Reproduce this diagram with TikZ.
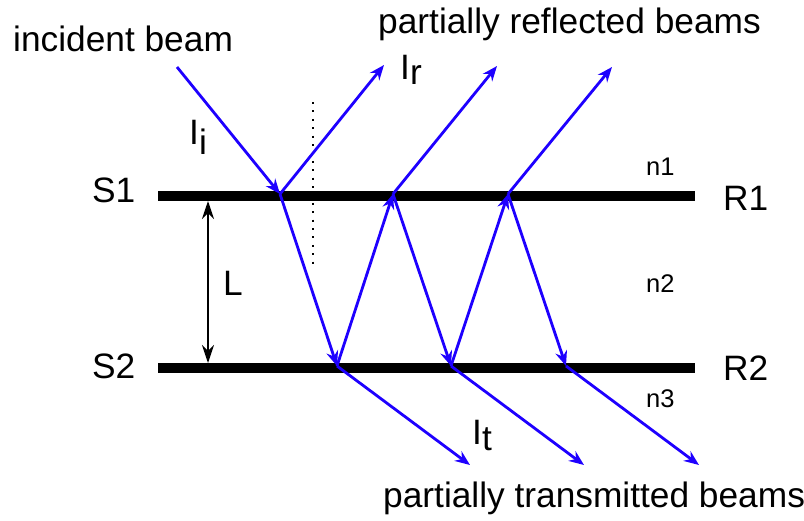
\documentclass[tikz,border=0pt]{standalone}
\usepackage{fontspec}
\setmainfont{Liberation Sans}
\usetikzlibrary{arrows.meta}
\definecolor{beamblue}{RGB}{30,0,255}
\begin{document}
\begin{tikzpicture}[x=1pt,y=-1pt,
  bar/.style={line width=10pt,black},
  beam/.style={line width=2.8pt,beamblue,-{Stealth[length=15pt,width=12pt,inset=5pt]}},
  lbl/.style={inner sep=0pt,anchor=base west,font=\fontsize{35.3}{40}\selectfont},
  small/.style={inner sep=0pt,anchor=base west,font=\fontsize{25.5}{30}\selectfont}]
\useasboundingbox (0,0) rectangle (804,520);
% surfaces
\coordinate (s1a) at (158,196); \coordinate (s1b) at (695,196);
\coordinate (s2a) at (158,368); \coordinate (s2b) at (695,368);
\draw[bar] (s1a) -- (s1b);
\draw[bar] (s2a) -- (s2b);
% hit points
\coordinate (t1) at (280,194); \coordinate (t2) at (393,194); \coordinate (t3) at (508,194);
\coordinate (b1) at (337,366); \coordinate (b2) at (451,366); \coordinate (b3) at (566,366);
\coordinate (inc) at (177,67);
\coordinate (r1) at (384,65); \coordinate (r2) at (497,66); \coordinate (r3) at (612,67);
\coordinate (o1) at (470,465); \coordinate (o2) at (584,465); \coordinate (o3) at (699,465);
% dotted normal
\coordinate (d1) at (313,102); \coordinate (d2) at (313,268);
\draw[line width=2pt,dash pattern=on 2pt off 6.4pt] (d1) -- (d2);
% L arrow
\coordinate (la) at (208,201); \coordinate (lb) at (208,363);
\draw[line width=1.4pt,{Stealth[length=18pt,width=12pt,inset=6pt]}-{Stealth[length=18pt,width=12pt,inset=6pt]}] (la) -- (lb);
% beams
\draw[beam] (inc) -- (t1);
\draw[beam] (t1) -- (r1);
\draw[beam] (t1) -- (b1);
\draw[beam] (b1) -- (t2);
\draw[beam] (t2) -- (r2);
\draw[beam] (t2) -- (b2);
\draw[beam] (b2) -- (t3);
\draw[beam] (t3) -- (r3);
\draw[beam] (t3) -- (b3);
\draw[beam] (b1) -- (o1);
\draw[beam] (b2) -- (o2);
\draw[beam] (b3) -- (o3);
% labels
\node[lbl] (tinc) at (13,51) {incident beam};
\node[lbl,anchor=base east] (tref) at (761,33) {partially reflected beams};
\node[lbl] (ttr) at (383,507) {partially transmitted beams};
\node[lbl] (ii) at (189,144) {I\raisebox{-10pt}{i}};
\node[lbl] (ir) at (400,79) {I\raisebox{-5pt}{r}};
\node[lbl] (it) at (472,444) {I\raisebox{-6pt}{t}};
\node[lbl] (S1) at (92,202) {S1};
\node[lbl] (S2) at (92,378) {S2};
\node[lbl] (R1) at (723,210) {R1};
\node[lbl] (R2) at (723,380) {R2};
\node[lbl] (L) at (223,295) {L};
\node[small] (n1) at (646,175) {n1};
\node[small] (n2) at (646,292) {n2};
\node[small] (n3) at (646,407) {n3};
\end{tikzpicture}
\end{document}
